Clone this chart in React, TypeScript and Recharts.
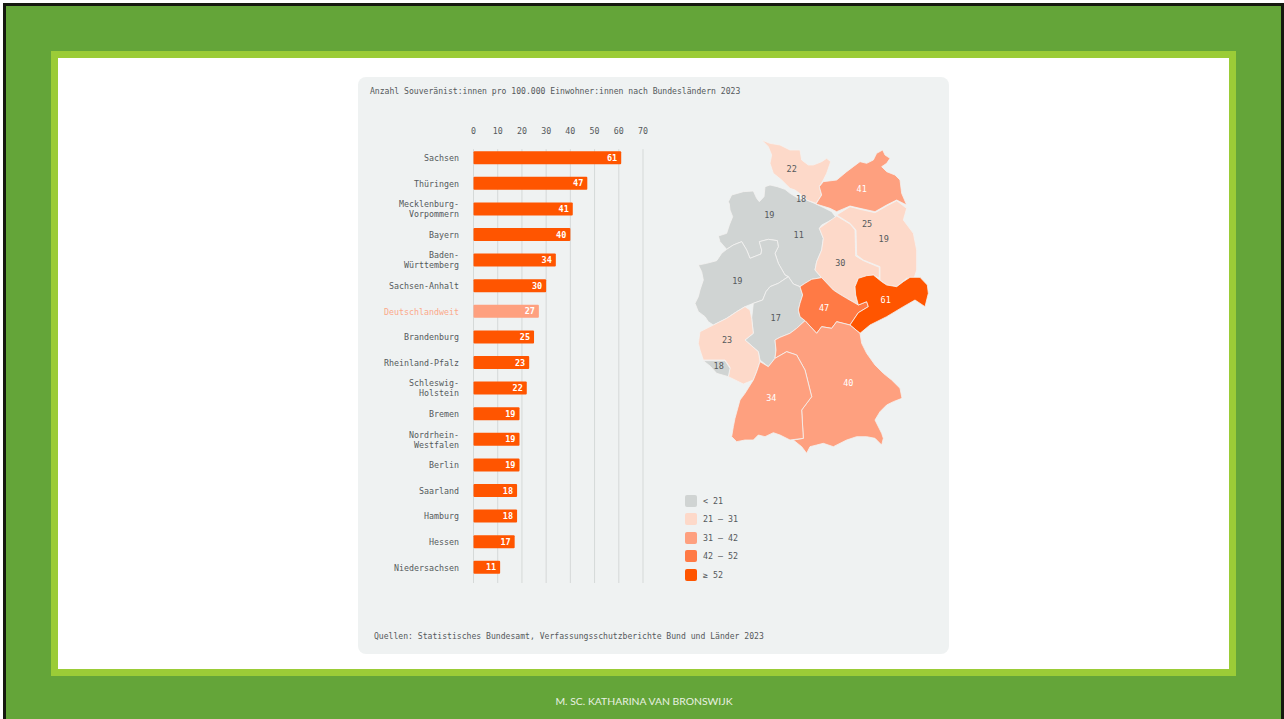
import { BarChart, Bar, Cell, CartesianGrid, XAxis, YAxis, LabelList, ScatterChart, Scatter } from 'recharts';

// bar chart values
const categories = [
  'Sachsen', 'Thüringen', 'Mecklenburg-\nVorpommern', 'Bayern', 'Baden-\nWürttemberg', 'Sachsen-Anhalt',
  'Deutschlandweit', 'Brandenburg', 'Rheinland-Pfalz', 'Schleswig-\nHolstein', 'Bremen',
  'Nordrhein-\nWestfalen', 'Berlin', 'Saarland', 'Hamburg', 'Hessen', 'Niedersachsen',
];
const values = [61, 47, 41, 40, 34, 30, 27, 25, 23, 22, 19, 19, 19, 18, 18, 17, 11];
const xTicks = [0, 10, 20, 30, 40, 50, 60, 70];
const barData = categories.map((name, i) => ({ name, value: values[i] }));

const legendLabels = ['< 21', '21 – 31', '31 – 42', '42 – 52', '≥ 52'];
const legendColors = ['#d0d4d3', '#fdd9c9', '#fea07f', '#ff7a45', '#ff5500'];

const TITLE = 'Anzahl Souveränist:innen pro 100.000 Einwohner:innen nach Bundesländern 2023';
const SOURCE = 'Quellen: Statistisches Bundesamt, Verfassungsschutzberichte Bund und Länder 2023';
const FOOTER = 'M. SC. KATHARINA VAN BRONSWIJK';

const MONO = '"DejaVu Sans Mono", monospace';
const TEXT = '#55595c';

// simplified state outlines as [x, y] in map units
const outlines: { value: number; pts: number[][] }[] = [
  // Niedersachsen
  { value: 11, pts: [[115,215],[125,195],[160,185],[190,183],[200,205],[208,215],[222,200],[225,170],[240,165],[262,170],[285,178],[300,190],[325,205],[350,210],[378,222],[405,235],[425,245],[440,265],[420,272],[395,285],[388,295],[400,325],[395,360],[380,395],[375,420],[395,443],[365,448],[345,460],[330,470],[310,462],[295,440],[285,435],[265,400],[255,370],[265,350],[262,332],[235,328],[208,335],[215,360],[213,372],[180,385],[170,360],[155,335],[130,345],[110,358],[90,335],[85,318],[110,310],[118,285],[128,260],[120,240],[118,222]] },
  // Nordrhein-Westfalen
  { value: 19, pts: [[25,405],[50,400],[80,392],[95,370],[110,358],[130,345],[155,335],[170,360],[180,385],[213,372],[215,360],[208,335],[235,328],[262,332],[265,350],[255,370],[265,400],[285,435],[295,440],[265,460],[240,470],[228,485],[218,510],[190,520],[165,530],[140,545],[110,565],[70,585],[55,575],[45,560],[25,545],[15,520],[25,500],[30,480],[40,450],[35,425]] },
  // Hessen
  { value: 17, pts: [[295,440],[310,462],[330,470],[338,495],[330,520],[325,540],[330,560],[345,572],[320,595],[300,610],[270,622],[255,630],[258,660],[255,685],[235,710],[210,690],[205,665],[165,630],[190,610],[185,565],[190,520],[218,510],[228,485],[240,470],[265,460]] },
  // Rheinland-Pfalz
  { value: 23, pts: [[30,605],[70,585],[110,565],[140,545],[165,530],[180,540],[185,565],[190,610],[165,630],[205,665],[210,695],[200,725],[190,750],[160,762],[115,740],[120,712],[105,690],[40,690],[30,660],[25,640]] },
  // Saarland
  { value: 18, pts: [[40,692],[105,692],[120,715],[115,740],[80,730],[60,708]] },
  // Schleswig-Holstein
  { value: 22, pts: [[215,30],[240,40],[270,45],[300,60],[330,60],[335,90],[355,105],[370,105],[395,95],[410,85],[422,95],[410,130],[400,150],[388,170],[395,195],[378,220],[350,210],[335,195],[315,180],[300,175],[275,150],[250,130],[240,100],[245,75],[235,50]] },
  // Mecklenburg-Vorpommern
  { value: 41, pts: [[378,222],[395,195],[388,170],[400,155],[440,150],[470,125],[490,110],[510,95],[530,100],[550,90],[560,70],[578,60],[585,75],[600,85],[590,100],[575,110],[590,125],[615,135],[630,150],[635,190],[650,225],[620,210],[590,225],[555,245],[510,235],[480,228],[440,245],[420,235]] },
  // Brandenburg
  { value: 25, pts: [[440,255],[480,230],[510,238],[555,248],[590,228],[620,212],[650,235],[640,270],[670,310],[680,360],[680,420],[672,445],[650,445],[620,470],[590,465],[570,450],[570,410],[520,390],[500,375],[498,300],[480,280]] },
  // Sachsen-Anhalt
  { value: 30, pts: [[388,295],[420,272],[440,258],[480,282],[495,300],[497,378],[520,392],[568,412],[568,445],[550,435],[505,445],[495,470],[497,495],[505,525],[470,505],[445,490],[430,480],[395,443],[375,420],[380,395],[395,360],[400,325]] },
  // Thüringen
  { value: 47, pts: [[330,470],[345,460],[365,448],[395,443],[430,480],[445,490],[470,505],[505,525],[530,515],[535,530],[505,548],[480,585],[440,575],[425,595],[395,590],[380,610],[345,572],[330,560],[325,540],[330,520],[338,495]] },
  // Sachsen
  { value: 61, pts: [[495,470],[505,445],[530,437],[550,435],[575,455],[590,465],[620,470],[640,455],[660,442],[690,442],[712,465],[715,490],[705,530],[675,510],[640,530],[590,560],[540,585],[510,610],[480,585],[505,548],[535,530],[530,515],[505,525],[497,495]] },
  // Bayern
  { value: 40, pts: [[345,572],[380,610],[395,590],[425,595],[440,575],[480,585],[510,610],[515,640],[530,670],[555,705],[580,730],[605,750],[630,775],[636,805],[610,815],[590,825],[570,845],[555,870],[575,910],[580,925],[575,945],[555,925],[530,920],[500,920],[470,930],[430,950],[400,940],[380,945],[360,950],[350,970],[335,950],[310,930],[340,925],[335,840],[365,800],[345,720],[320,675],[290,665],[255,685],[258,660],[255,630],[270,622],[300,610],[320,595]] },
  // Baden-Württemberg
  { value: 34, pts: [[255,685],[290,665],[320,675],[345,720],[365,800],[335,840],[340,925],[300,930],[270,915],[250,908],[225,920],[205,915],[190,930],[165,930],[140,935],[125,920],[130,890],[135,865],[150,810],[165,790],[190,750],[200,725],[210,695],[235,710]] },
];

// state value labels, placed at [x, y] in map units
const mapLabels = [
  { x: 305, y: 117, value: 22 }, { x: 333, y: 207, value: 18 }, { x: 515, y: 178, value: 41 },
  { x: 238, y: 255, value: 19 }, { x: 326, y: 314, value: 11 }, { x: 531, y: 283, value: 25 },
  { x: 581, y: 326, value: 19 }, { x: 451, y: 398, value: 30 }, { x: 142, y: 454, value: 19 },
  { x: 587, y: 509, value: 61 }, { x: 402, y: 533, value: 47 }, { x: 257, y: 564, value: 17 },
  { x: 111, y: 631, value: 23 }, { x: 86, y: 709, value: 18 }, { x: 475, y: 759, value: 40 },
  { x: 244, y: 803, value: 34 },
];

const binColor = (v: number) => {
  if (v < 21) return legendColors[0];
  if (v < 31) return legendColors[1];
  if (v < 42) return legendColors[2];
  if (v < 52) return legendColors[3];
  return legendColors[4];
};

const CategoryTick = ({ x, y, payload }: any) => {
  const lines = String(payload.value).split('\n');
  const highlight = payload.value === 'Deutschlandweit';
  return (
    <text x={x} y={y} textAnchor="end" fontFamily={MONO} fontSize={8.3} fill={highlight ? '#fba98a' : TEXT}>
      {lines.map((l, i) => (
        <tspan key={i} x={x} dy={i === 0 ? (lines.length > 1 ? -2 : 3) : 10}>{l}</tspan>
      ))}
    </text>
  );
};

const statePolygon = (fill: string) => (p: any) => (
  <polygon
    points={p.points.map((q: any) => `${q.x},${q.y}`).join(' ')}
    fill={fill}
    stroke="#f4f3f1"
    strokeWidth={0.8}
    strokeLinejoin="round"
  />
);

const mapLabel = (p: any) => {
  const v = p.payload.value;
  return (
    <text x={p.cx} y={p.cy + 3} textAnchor="middle" fontFamily={MONO} fontSize={8.5} fill={v > 31 ? '#fff' : TEXT}>
      {v}
    </text>
  );
};

export default function App() {
  return (
    <div style={{ position: 'absolute', left: 0, top: 0, width: 1284, height: 719, background: '#fff', overflow: 'hidden' }}>
      <div style={{ position: 'absolute', left: 3, top: 3, width: 1281, height: 716, background: '#15190f' }} />
      <div style={{ position: 'absolute', left: 6, top: 6, width: 1275, height: 713, background: '#64a539' }} />
      <div style={{ position: 'absolute', left: 51, top: 51, width: 1185, height: 625, background: '#9bcc37' }} />
      <div style={{ position: 'absolute', left: 58, top: 58, width: 1171, height: 611, background: '#fff' }} />
      <div style={{ position: 'absolute', left: 358, top: 77, width: 591, height: 577, background: '#eff2f2', borderRadius: 8 }} />

      <div style={{ position: 'absolute', left: 370, top: 86, fontFamily: MONO, fontSize: 8.1, color: TEXT, whiteSpace: 'nowrap' }}>{TITLE}</div>
      <div style={{ position: 'absolute', left: 374, top: 631, fontFamily: MONO, fontSize: 8.1, color: TEXT, whiteSpace: 'nowrap' }}>{SOURCE}</div>

      <div style={{ position: 'absolute', left: 358, top: 77 }}>
        <BarChart width={300} height={520} layout="vertical" data={barData} margin={{ top: 48.2, right: 15, bottom: 14, left: 0 }}>
          <CartesianGrid
            horizontal={false}
            vertical={(p: any) => <line key={p.index} x1={p.x1} x2={p.x2} y1={p.y1 + 4} y2={p.y2} stroke="#d5d9d8" strokeWidth={1} />}
          />
          <XAxis
            type="number"
            orientation="top"
            domain={[0, 70]}
            ticks={xTicks}
            interval={0}
            axisLine={false}
            tickLine={false}
            tickMargin={5}
            height={20}
            tick={{ fontFamily: MONO, fontSize: 8.3, fill: TEXT }}
          />
          <YAxis
            type="category"
            dataKey="name"
            width={115.5}
            interval={0}
            axisLine={false}
            tickLine={false}
            tickMargin={8.5}
            padding={{ top: 0, bottom: 2.6 }}
            tick={<CategoryTick />}
          />
          <Bar dataKey="value" barSize={13} isAnimationActive={false} radius={1}>
            {barData.map((d) => (
              <Cell key={d.name} fill={d.name === 'Deutschlandweit' ? '#fea07f' : '#ff5500'} />
            ))}
            <LabelList dataKey="value" position="insideRight" offset={4} fill="#fff" fontFamily={MONO} fontSize={8.5} fontWeight={700} />
          </Bar>
        </BarChart>
      </div>

      <div style={{ position: 'absolute', left: 690, top: 130 }}>
        <ScatterChart width={245} height={330} margin={{ top: 0, right: 0, bottom: 0, left: 0 }}>
          <XAxis type="number" dataKey="x" domain={[0, 735]} hide />
          <YAxis type="number" dataKey="y" domain={[0, 990]} reversed hide />
          {outlines.map((s, i) => (
            <Scatter key={i} data={s.pts.map(([x, y]) => ({ x, y }))} line={statePolygon(binColor(s.value))} shape={() => null} isAnimationActive={false} />
          ))}
          <Scatter data={mapLabels} shape={mapLabel} isAnimationActive={false} />
        </ScatterChart>
      </div>

      {legendLabels.map((label, i) => (
        <div key={label} style={{ position: 'absolute', left: 685, top: 495 + i * 18.4, height: 12, display: 'flex', alignItems: 'center' }}>
          <div style={{ width: 11.5, height: 12, borderRadius: 2, background: legendColors[i] }} />
          <span style={{ marginLeft: 6.5, fontFamily: MONO, fontSize: 8.3, color: TEXT, whiteSpace: 'nowrap' }}>{label}</span>
        </div>
      ))}

      <div style={{ position: 'absolute', left: 444, width: 400, top: 695, textAlign: 'center', fontFamily: 'Lato, sans-serif', fontSize: 10.4, color: '#e9f1e2', whiteSpace: 'nowrap' }}>{FOOTER}</div>
    </div>
  );
}
